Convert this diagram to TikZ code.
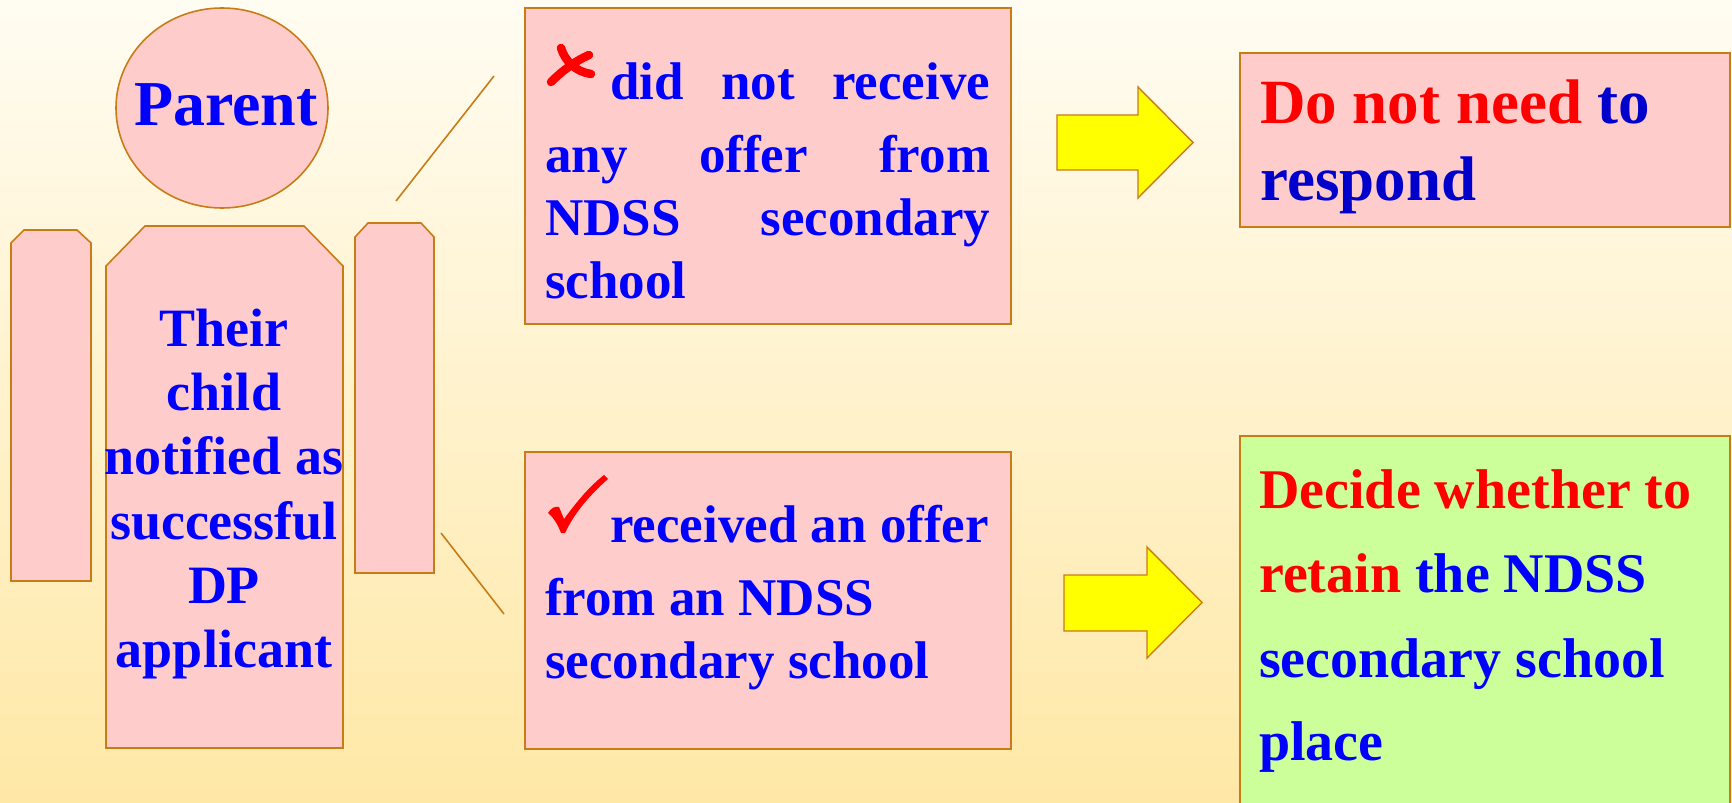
\documentclass[tikz,border=0pt]{standalone}
\usepackage{fontspec}
\setmainfont{Liberation Serif}
\definecolor{bgtop}{RGB}{255,252,242}
\definecolor{bgbot}{RGB}{255,232,166}
\definecolor{pinkfill}{RGB}{255,204,204}
\definecolor{greenfill}{RGB}{204,255,153}
\definecolor{outline}{RGB}{200,124,22}
\definecolor{arrowyellow}{RGB}{255,255,0}
\definecolor{txtblue}{RGB}{0,0,255}
\definecolor{darkblue}{RGB}{0,0,204}
\definecolor{txtred}{RGB}{255,0,0}
\tikzset{
  shapebox/.style={fill=pinkfill,draw=outline,line width=1.6pt},
  greenbox/.style={fill=greenfill,draw=outline,line width=1.6pt},
  blockarrow/.style={fill=arrowyellow,draw=outline,line width=1.4pt,line join=miter},
  pointer/.style={draw=outline,line width=1.6pt},
  txt/.style={inner sep=0pt,font=\bfseries\fontsize{53}{63}\selectfont,text=txtblue},
  bodytxt/.style={inner sep=0pt,font=\bfseries\fontsize{54}{64}\selectfont,text=txtblue,anchor=base},
  bigtxt/.style={inner sep=0pt,font=\bfseries\fontsize{63}{76}\selectfont,anchor=base west},
  greentxt/.style={inner sep=0pt,font=\bfseries\fontsize{56}{84}\selectfont,anchor=base west,text=txtblue},
  crossstroke/.style={draw=txtred,line width=8.5pt,line cap=round},
  checkmark/.style={fill=txtred}
}
\begin{document}
\begin{tikzpicture}[x=1pt,y=-1pt]
\useasboundingbox (0,0) rectangle (1732,803);
\fill[top color=bgtop,bottom color=bgbot] (0,0) rectangle (1732,803);

% person figure
\draw[shapebox] (222,108) ellipse [x radius=106, y radius=100];
\node[inner sep=0pt,font=\bfseries\fontsize{64}{70}\selectfont,text=txtblue,anchor=base] (parent) at (226,125) {Parent};
\draw[shapebox] (11,243) -- (24,230) -- (77,230) -- (91,243) -- (91,581) -- (11,581) -- cycle;
\draw[shapebox] (106,266) -- (145,226) -- (304,226) -- (343,266) -- (343,748) -- (106,748) -- cycle;
\draw[shapebox] (355,237) -- (368,223) -- (421,223) -- (434,237) -- (434,573) -- (355,573) -- cycle;
\node[bodytxt] (b1) at (224,346) {Their};
\node[bodytxt] (b2) at (224,410) {child};
\node[bodytxt] (b3) at (224,474) {notified as};
\node[bodytxt] (b4) at (224,539) {successful};
\node[bodytxt] (b5) at (224,603) {DP};
\node[bodytxt] (b6) at (224,667) {applicant};

% pointer lines
\coordinate (p1a) at (396,201);
\coordinate (p1b) at (494,76);
\coordinate (p2a) at (441,533);
\coordinate (p2b) at (504,614);
\draw[pointer] (p1a) -- (p1b);
\draw[pointer] (p2a) -- (p2b);

% top middle box
\node[shapebox,anchor=north west,minimum width=486pt,minimum height=316pt,inner sep=0pt] (topbox) at (524,7) {};
\draw[crossstroke] (561,48) .. controls (565,61) and (576,72) .. (591,74);
\draw[crossstroke] (589,55) .. controls (575,61) and (561,72) .. (551,82);
\node[txt,anchor=base west] (t1) at (610,99) {\makebox[380pt][s]{did not receive}};
\node[txt,anchor=base west] (t2) at (545,172) {\makebox[445pt][s]{any offer from}};
\node[txt,anchor=base west] (t3) at (545,235) {\makebox[445pt][s]{NDSS secondary}};
\node[txt,anchor=base west] (t4) at (545,298) {school};

% bottom middle box
\node[shapebox,anchor=north west,minimum width=486pt,minimum height=297pt,inner sep=0pt] (botbox) at (524,451) {};
\fill[checkmark] (548,513) .. controls (551,508) and (555,506) .. (559,507)
  -- (564,519) .. controls (578,500) and (590,486) .. (604,475)
  -- (608,479) .. controls (590,495) and (575,512) .. (565,533)
  -- (561,533) .. controls (558,525) and (554,518) .. (548,513) -- cycle;
\node[txt,anchor=base west] (u1) at (610,542) {received an offer};
\node[txt,anchor=base west] (u2) at (545,615) {from an NDSS};
\node[txt,anchor=base west] (u3) at (545,678) {secondary school};

% block arrows
\draw[blockarrow] (1057,115) -- (1138,115) -- (1138,87) -- (1193,142.5) -- (1138,198) -- (1138,170) -- (1057,170) -- cycle;
\draw[blockarrow] (1064,575) -- (1147,575) -- (1147,547) -- (1202,602.5) -- (1147,658) -- (1147,631) -- (1064,631) -- cycle;

% right boxes
\node[shapebox,anchor=north west,minimum width=490pt,minimum height=174pt,inner sep=0pt] (respbox) at (1239,52) {};
\node[bigtxt] (r1) at (1260,123) {\textcolor{txtred}{Do not need} \textcolor{darkblue}{to}};
\node[bigtxt,text=darkblue] (r2) at (1260,200) {respond};

\node[greenbox,anchor=north west,minimum width=490pt,minimum height=380pt,inner sep=0pt] (decbox) at (1239,435) {};
\node[greentxt,text=txtred] (g1) at (1259,508) {Decide whether to};
\node[greentxt] (g2) at (1259,592) {\textcolor{txtred}{retain} the NDSS};
\node[greentxt] (g3) at (1259,677) {secondary school};
\node[greentxt] (g4) at (1259,760) {place};
\end{tikzpicture}
\end{document}
